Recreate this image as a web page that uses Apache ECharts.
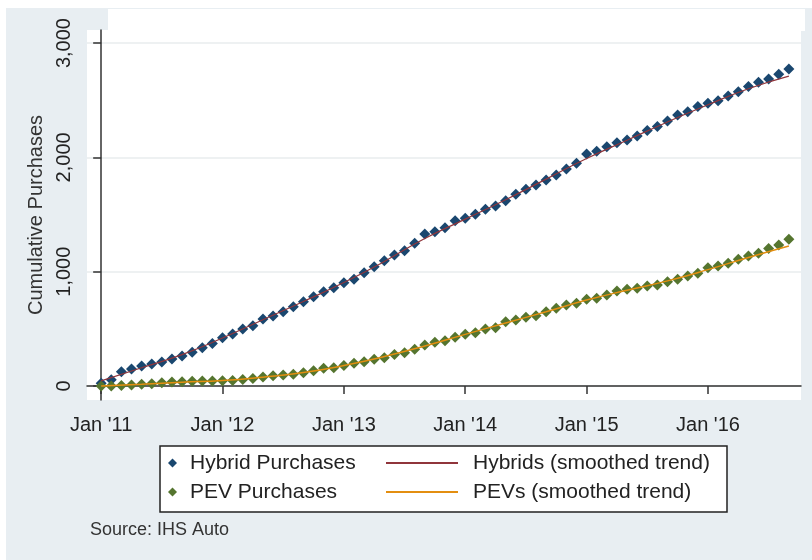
<!DOCTYPE html>
<html>
<head>
<meta charset="utf-8">
<title>Cumulative Purchases</title>
<script src="https://cdn.jsdelivr.net/npm/echarts@6/dist/echarts.min.js"></script>
<style>
  html, body { margin: 0; padding: 0; background: #fff; }
  #wrap { position: relative; width: 812px; height: 560px; overflow: hidden; }
  #bg { position: absolute; left: 6px; top: 8px; right: 0; bottom: 0; background: #e8eef2; }
  #patch { position: absolute; left: 108px; top: 9px; width: 697px; height: 22px; background: #fff; }
  #chart { position: absolute; left: 0; top: 0; width: 812px; height: 560px; }
</style>
</head>
<body>
<div id="wrap">
  <div id="bg"></div>
  <div id="patch"></div>
  <div id="chart"></div>
</div>
<script>
// monthly values, index 0 = Jan 2011 ... 68 = Sep 2016
var hybrid = [
  25, 55, 125, 150, 175, 192, 210, 236, 262, 295, 335, 373,
  423, 455, 499, 528, 586, 612, 650, 694, 738, 781, 825, 860,
  904, 935, 991, 1044, 1096, 1146, 1184, 1248, 1330, 1350, 1385, 1446,
  1467, 1502, 1546, 1575, 1621, 1677, 1721, 1759, 1802, 1846, 1899, 1948,
  2030, 2053, 2094, 2127, 2152, 2188, 2234, 2269, 2318, 2371, 2400, 2444,
  2473, 2496, 2537, 2575, 2619, 2657, 2686, 2727, 2773
]
var pev = [
  0, 0, 5, 10, 15, 20, 29, 36, 38, 42, 45, 45,
  47, 48, 58, 66, 80, 90, 96, 103, 116, 134, 155, 160,
  180, 199, 213, 234, 248, 277, 291, 321, 359, 382, 396, 426,
  452, 466, 499, 510, 563, 577, 601, 615, 650, 680, 709, 724,
  759, 767, 796, 831, 846, 855, 875, 884, 913, 934, 962, 986,
  1035, 1050, 1073, 1108, 1137, 1161, 1204, 1234, 1284
]

// smoothed trend, read every 4 months
var trendMonths = [0, 4, 8, 12, 16, 20, 24, 28, 32, 36, 40, 44, 48, 52, 56, 60, 64, 68]
var trendHybrid = [45, 160, 275, 420, 580, 740, 905, 1090, 1290, 1460, 1630, 1810, 1990, 2150, 2310, 2460, 2600, 2710]
var trendPev = [0, 15, 33, 48, 78, 118, 180, 258, 350, 452, 552, 650, 752, 838, 920, 1018, 1125, 1225]

var tickMonths = [0, 12, 24, 36, 48, 60]
var tickLabels = ["Jan '11", "Jan '12", "Jan '13", "Jan '14", "Jan '15", "Jan '16"]
var yTicks = [0, 1000, 2000, 3000]

var font = "'Liberation Sans', Arial, sans-serif"
var ink = '#333'

function pairs(xs, ys) {
  return ys.map(function (v, i) { return [xs ? xs[i] : i, v] })
}

var chart = echarts.init(document.getElementById('chart'), null, { renderer: 'canvas' })

chart.setOption({
  backgroundColor: 'transparent',
  animation: false,
  textStyle: { fontFamily: font },
  title: {
    text: 'Source: IHS Auto',
    left: 90,
    top: 521,
    padding: 0,
    textStyle: { fontSize: 18, fontWeight: 'normal', color: ink, fontFamily: font }
  },
  grid: {
    left: 87,
    right: 11,
    top: 30,
    bottom: 160,
    show: true,
    backgroundColor: '#fff',
    borderWidth: 0
  },
  graphic: [{
    type: 'rect',
    shape: { x: 160, y: 446, width: 567, height: 66 },
    style: { fill: '#fff', stroke: '#222', lineWidth: 1.5 }
  }],
  legend: [{
    data: ['Hybrid Purchases', 'PEV Purchases'],
    orient: 'vertical',
    left: 168,
    top: 452,
    padding: 0,
    itemWidth: 9,
    itemHeight: 9,
    itemGap: 7,
    textStyle: { fontSize: 21, color: '#222', lineHeight: 22, padding: [0, 0, 0, 8], fontFamily: font }
  }, {
    data: ['Hybrids (smoothed trend)', 'PEVs (smoothed trend)'],
    orient: 'vertical',
    left: 386,
    top: 452,
    padding: 0,
    icon: 'rect',
    itemWidth: 72,
    itemHeight: 2,
    itemGap: 7,
    textStyle: { fontSize: 21, color: '#222', lineHeight: 22, padding: [0, 0, 0, 10], fontFamily: font }
  }],
  xAxis: {
    type: 'value',
    min: -1.4,
    max: 69.2,
    axisLine: { show: true, lineStyle: { color: ink, width: 1.5 } },
    axisTick: { show: true, length: 8, customValues: tickMonths, lineStyle: { color: ink, width: 1.5 } },
    axisLabel: {
      customValues: tickMonths,
      margin: 15,
      fontSize: 20,
      color: '#222',
      fontFamily: font,
      formatter: function (v) { return tickLabels[tickMonths.indexOf(v)] }
    },
    splitLine: { show: false }
  },
  yAxis: {
    type: 'value',
    min: -122,
    max: 3114,
    name: 'Cumulative Purchases',
    nameLocation: 'middle',
    nameRotate: 90,
    nameGap: 36,
    nameTextStyle: { fontSize: 20, color: ink, fontFamily: font },
    axisLine: { show: true, lineStyle: { color: ink, width: 1.5 } },
    axisTick: { show: true, length: 8, customValues: yTicks, lineStyle: { color: ink, width: 1.5 } },
    axisLabel: {
      customValues: yTicks,
      rotate: 90,
      margin: 13,
      fontSize: 20,
      color: '#222',
      fontFamily: font,
      formatter: function (v) { return String(v).replace(/\B(?=(\d{3})+(?!\d))/g, ',') }
    },
    splitLine: { show: true, lineStyle: { color: '#e9ecee', width: 1.5 } }
  },
  series: [{
    name: 'Hybrid Purchases',
    type: 'scatter',
    symbol: 'diamond',
    symbolSize: 11,
    itemStyle: { color: '#1a476f', opacity: 1 },
    data: pairs(null, hybrid)
  }, {
    name: 'PEV Purchases',
    type: 'scatter',
    symbol: 'diamond',
    symbolSize: 11,
    itemStyle: { color: '#55752f', opacity: 1 },
    data: pairs(null, pev)
  }, {
    name: 'Hybrids (smoothed trend)',
    type: 'line',
    smooth: true,
    symbol: 'none',
    itemStyle: { color: '#90353b' },
    lineStyle: { color: '#90353b', width: 1.2 },
    data: pairs(trendMonths, trendHybrid)
  }, {
    name: 'PEVs (smoothed trend)',
    type: 'line',
    smooth: true,
    symbol: 'none',
    itemStyle: { color: '#e38e10' },
    lineStyle: { color: '#e38e10', width: 1.5 },
    data: pairs(trendMonths, trendPev)
  }]
})
</script>
</body>
</html>
